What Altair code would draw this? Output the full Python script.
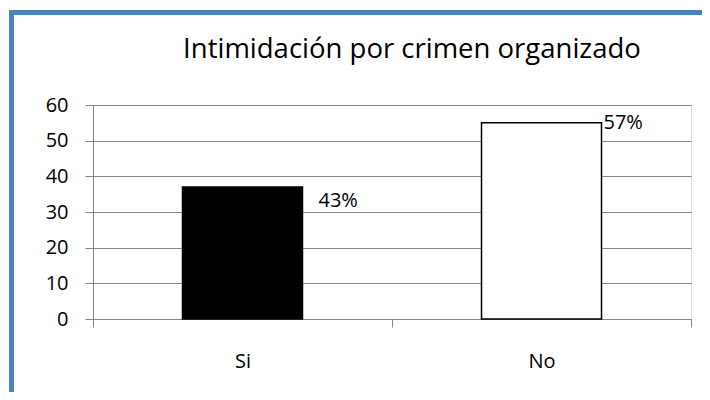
import altair as alt
import pandas as pd

categories = ["Si", "No"]
values = [37, 55]
pct_labels = ["43%", "57%"]
bar_fills = ["#000000", "#FFFFFF"]
title_text = "Intimidación por crimen organizado"

df = pd.DataFrame({"cat": categories, "val": values, "lbl": pct_labels, "fill": bar_fills})

FONT = "Open Sans"
GRID = "#878787"

x = alt.X("cat:N", sort=categories, title=None,
          scale=alt.Scale(paddingInner=0, paddingOuter=0),
          axis=alt.Axis(labelAngle=0, labelFont=FONT, labelFontSize=20, labelColor="black",
                        labelPadding=24, tickBand="extent", tickSize=8, tickColor=GRID,
                        domainColor=GRID, grid=False))
y = alt.Y("val:Q", title=None,
          scale=alt.Scale(domain=[0, 60]),
          axis=alt.Axis(values=[0, 10, 20, 30, 40, 50, 60], labelFont=FONT, labelFontSize=20,
                        labelColor="black", labelPadding=17, tickSize=8, tickColor=GRID,
                        labelOverlap=False,
                        domainColor=GRID, gridColor=GRID, grid=True))

base = alt.Chart(df)

frame = base.mark_rect(fill="white", fillOpacity=0, stroke="#4F81BD", strokeWidth=5).encode(
    x=alt.value(-81.5), x2=alt.value(1200), y=alt.value(-92.5), y2=alt.value(1200)
).transform_filter(alt.datum.cat == "Si")

title = base.mark_text(align="center", baseline="alphabetic", font=FONT, fontSize=27.5,
                       color="black").encode(
    x=alt.value(319), y=alt.value(-47), text=alt.value(title_text)
).transform_filter(alt.datum.cat == "Si")

bars = base.mark_bar(size=120, stroke="black", strokeWidth=1.5).encode(
    x=x, y=y, fill=alt.Fill("fill:N", scale=None)
)

lbl_si = base.mark_text(align="left", baseline="middle", dx=76, dy=14, font=FONT,
                        fontSize=20, color="black").encode(
    x=x, y=y, text="lbl:N"
).transform_filter(alt.datum.cat == "Si")

lbl_no = base.mark_text(align="left", baseline="middle", dx=62, dy=0, font=FONT,
                        fontSize=20, color="black").encode(
    x=x, y=y, text="lbl:N"
).transform_filter(alt.datum.cat == "No")

chart = alt.layer(frame, title, bars, lbl_si, lbl_no).properties(
    width=598, height=214,
    autosize=alt.AutoSizeParams(type="none"),
    padding={"left": 85, "top": 97, "right": 11, "bottom": 73},
).configure_view(stroke=None).configure(background="white")

chart.save("out.html", embed_options={"renderer": "svg", "actions": False})
